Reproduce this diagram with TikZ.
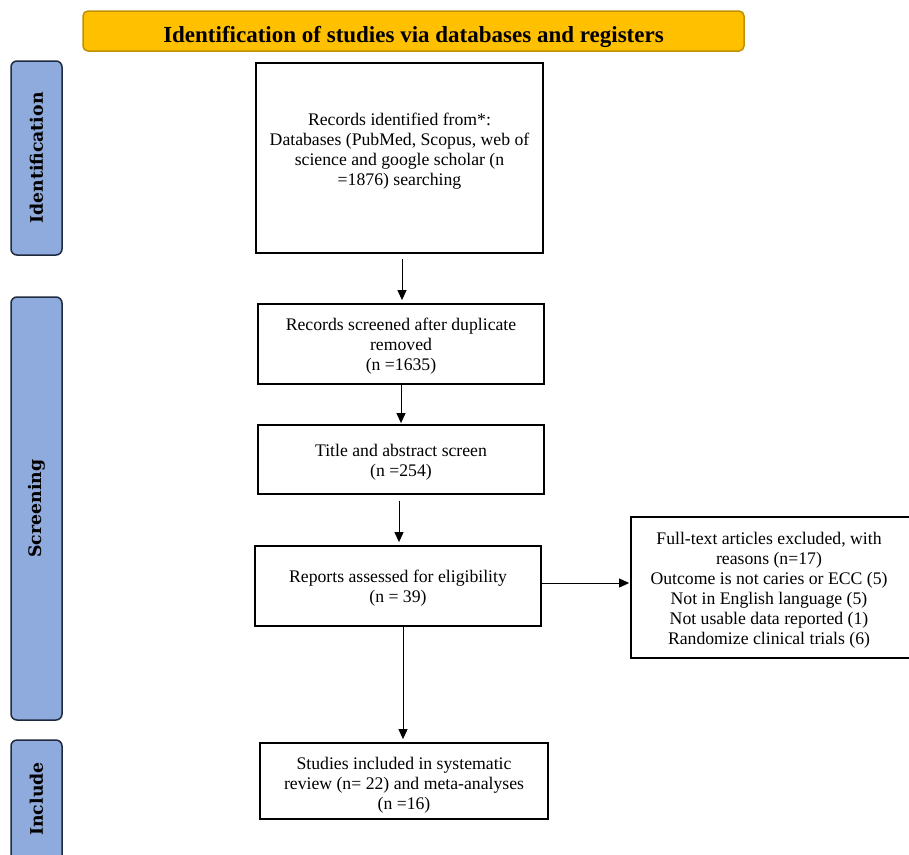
\documentclass[tikz,border=0pt]{standalone}
\usepackage{fontspec}
\setmainfont{Liberation Serif}
\newfontfamily\sidefont{DejaVu Serif}
\usetikzlibrary{arrows.meta}
\definecolor{titlefill}{HTML}{FFC000}
\definecolor{titledraw}{HTML}{BF9000}
\definecolor{sidefill}{HTML}{8FAADC}
\definecolor{sidedraw}{HTML}{1F2A3F}
\tikzset{
  flowbox/.style={draw=black, line width=1.8pt, align=center, inner sep=0pt,
    font=\fontsize{17.7}{20}\selectfont},
  sidebox/.style={draw=sidedraw, fill=sidefill, line width=1.5pt, rounded corners=6pt,
    minimum width=51pt, inner sep=0pt},
  sidetext/.style={rotate=90, font=\sidefont\bfseries\fontsize{17.3}{20}\selectfont},
  flowarrow/.style={line width=0.9pt, -{Triangle[length=10pt,width=9pt]}},
  plain/.style={align=center, font=\fontsize{17.7}{20}\selectfont, inner sep=0pt}
}
\begin{document}
\begin{tikzpicture}[x=1pt, y=-1pt]
\useasboundingbox (0,0) rectangle (909,854);
% title
\node[draw=titledraw, fill=titlefill, line width=1.5pt, rounded corners=5pt,
      minimum width=661pt, minimum height=40pt, inner sep=0pt] (title) at (413.5,31) {};
\node[inner sep=0pt, font=\bfseries\fontsize{23}{26}\selectfont] (titlet) at (413.5,36.5)
      {Identification of studies via databases and registers};
% side labels
\node[sidebox, minimum height=194pt] (sideid) at (36.5,158) {};
\node[sidetext] (sideidt) at (sideid.center) {Identification};
\node[sidebox, minimum height=423pt] (sidescr) at (36.5,508.5) {};
\node[sidetext] (sidescrt) at (sidescr.center) {Screening};
\node[sidebox, minimum height=130pt] (sideinc) at (36.5,805) {};
\node[sidetext] (sideinct) at (36.5,799) {Include};
% boxes
\node[flowbox, minimum width=287pt, minimum height=190pt] (b1) at (399.5,158) {};
\node[plain] (b1t) at (399.5,151) {Records identified from*:\\Databases (PubMed, Scopus, web of\\science and google scholar (n\\=1876) searching};
\node[flowbox, minimum width=286pt, minimum height=80pt] (b2) at (401,344) {};
\node[plain] (b2t) at (401,346) {Records screened after duplicate\\removed\\(n =1635)};
\node[flowbox, minimum width=286pt, minimum height=69pt] (b3) at (401,459.5) {};
\node[plain] (b3t) at (401,462) {Title and abstract screen\\(n =254)};
\node[flowbox, minimum width=286pt, minimum height=80pt] (b4) at (398,586) {};
\node[plain] (b4t) at (398,588.5) {Reports assessed for eligibility\\(n = 39)};
\node[flowbox, minimum width=290pt, minimum height=141pt] (b5) at (776,587.5) {};
\node[plain] (b5t) at (769,590) {Full-text articles excluded, with\\reasons (n=17)\\Outcome is not caries or ECC (5)\\Not in English language (5)\\Not usable data reported (1)\\Randomize clinical trials (6)};
\node[flowbox, minimum width=288pt, minimum height=76pt] (b6) at (404,781) {};
\node[plain] (b6t) at (404,785.5) {Studies included in systematic\\review (n= 22) and meta-analyses\\(n =16)};
% arrows
\draw[flowarrow, shorten <=5pt, shorten >=3pt] (b1.south -| 402,0) -- (b2.north -| 402,0);
\draw[flowarrow, shorten >=1pt] (b2.south -| 401,0) -- (b3.north -| 401,0);
\draw[flowarrow, shorten <=6pt, shorten >=3pt] (b3.south -| 399,0) -- (b4.north -| 399,0);
\draw[flowarrow, shorten >=1pt] (b4.east |- 0,583) -- (b5.west |- 0,583);
\draw[flowarrow, shorten >=3pt] (b4.south -| 403,0) -- (b6.north -| 403,0);
\end{tikzpicture}
\end{document}
